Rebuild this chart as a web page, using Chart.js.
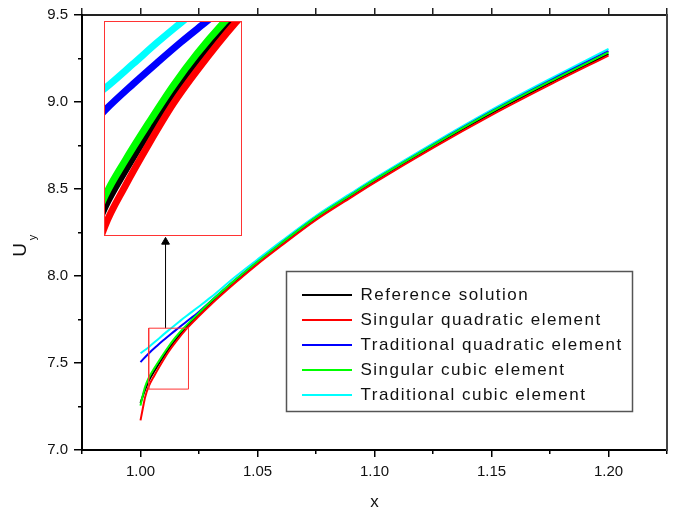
<!DOCTYPE html>
<html><head><meta charset="utf-8">
<script src="https://cdn.jsdelivr.net/npm/chart.js@4.4.1/dist/chart.umd.min.js"></script>
<style>
html,body{margin:0;padding:0;background:#fff;}
#wrap{position:relative;width:676px;height:515px;background:#fff;}
#main{position:absolute;left:0;top:0;}
#insetBox{position:absolute;left:104px;top:21px;width:138px;height:215px;box-sizing:border-box;border:1px solid #f33;background:#fff;}
#inset{display:block;}
</style></head><body>
<div id="wrap"><canvas id="main" width="676" height="515"></canvas>
<div id="insetBox"><canvas id="inset" width="136" height="213"></canvas></div></div>
<script>
// ---------- data ----------
const seriesNames = ['Reference solution','Singular quadratic element','Traditional quadratic element','Singular cubic element','Traditional cubic element'];

const refX = [1.000,1.001,1.002,1.0035,1.006,1.009,1.012,1.015,1.0192,1.025,1.030,1.040,1.050,1.060,1.075,1.090,1.100,1.125,1.150,1.175,1.200];
const refY = [7.270,7.310,7.348,7.396,7.455,7.520,7.580,7.635,7.700,7.780,7.845,7.965,8.075,8.180,8.330,8.460,8.545,8.745,8.935,9.110,9.275];

const sqX = [1.000,1.001,1.002,1.0035,1.006,1.009,1.012,1.015,1.0199,1.025,1.030,1.040,1.050,1.060,1.075,1.090,1.100,1.125,1.150,1.175,1.200];
const sqY = [7.170,7.240,7.305,7.365,7.430,7.500,7.565,7.620,7.700,7.770,7.835,7.955,8.068,8.172,8.322,8.452,8.537,8.737,8.925,9.100,9.267];

const tqX = [1.000,1.0035,1.007,1.010,1.013,1.0161,1.0192,1.025,1.030,1.040,1.050,1.060,1.075,1.090,1.100,1.125,1.150,1.175,1.200];
const tqY = [7.505,7.555,7.598,7.633,7.667,7.700,7.733,7.795,7.855,7.973,8.082,8.187,8.337,8.467,8.552,8.754,8.946,9.123,9.292];

const scX = [1.000,1.001,1.002,1.0035,1.006,1.009,1.012,1.015,1.0184,1.025,1.030,1.040,1.050,1.060,1.075,1.090,1.100,1.125,1.150,1.175,1.200];
const scY = [7.255,7.315,7.365,7.414,7.472,7.535,7.595,7.648,7.700,7.788,7.853,7.972,8.082,8.187,8.337,8.467,8.552,8.752,8.943,9.118,9.285];

const tcX = [1.000,1.0035,1.007,1.010,1.0131,1.0165,1.0192,1.025,1.030,1.040,1.050,1.060,1.075,1.090,1.100,1.125,1.150,1.175,1.200];
const tcY = [7.556,7.591,7.631,7.666,7.700,7.737,7.766,7.825,7.877,7.990,8.095,8.198,8.346,8.476,8.561,8.763,8.955,9.133,9.305];

const xRange = [0.975, 1.225];
const yRange = [7.0, 9.5];
const xTickValues = [1.00,1.05,1.10,1.15,1.20];
const xTickLabels = ['1.00','1.05','1.10','1.15','1.20'];
const xMinorTicks = [0.975,1.025,1.075,1.125,1.175,1.225];
const xTopTicks = [0.975,1.000,1.025,1.050,1.075,1.100,1.125,1.150,1.175,1.200,1.225];
const yTickValues = [7.0,7.5,8.0,8.5,9.0,9.5];
const yTickLabels = ['7.0','7.5','8.0','8.5','9.0','9.5'];
const yMinorTicks = [7.25,7.75,8.25,8.75,9.25];

const zoomX = [1.0035, 1.0205];
const zoomY = [7.35, 7.70];
const arrowX = [1.0107, 1.0107];
const arrowY = [7.70, 8.196];

const xTitle = 'x';
const yTitleMain = 'U';
const yTitleSub = 'y';

// ---------- styles ----------
const FONT = '"Liberation Sans", Arial, Helvetica, sans-serif';
const seriesColors = ['#000000','#ff0000','#0000ff','#00ff00','#00ffff'];
const seriesOrder = [5,1,3,2,4];
Chart.defaults.font.family = FONT;

const seriesXs = [refX, sqX, tqX, scX, tcX];
const seriesYs = [refY, sqY, tqY, scY, tcY];
const toPts = (xs, ys) => xs.map((x, i) => ({x: x, y: ys[i]}));

function seriesDatasets(width) {
  return seriesNames.map((name, i) => ({
    label: name,
    data: toPts(seriesXs[i], seriesYs[i]),
    borderColor: seriesColors[i],
    backgroundColor: seriesColors[i],
    pointBorderColor: seriesColors[i],
    pointBorderWidth: 2,
    borderWidth: width,
    pointRadius: 0,
    pointHitRadius: 0,
    cubicInterpolationMode: 'monotone',
    order: seriesOrder[i],
    xAxisID: 'x', yAxisID: 'y'
  }));
}

const mainDatasets = seriesDatasets(2);
mainDatasets.push({
  label: 'zoom',
  data: toPts([zoomX[0], zoomX[1], zoomX[1], zoomX[0], zoomX[0]], [zoomY[0], zoomY[0], zoomY[1], zoomY[1], zoomY[0]]),
  borderColor: '#f33', borderWidth: 1, pointRadius: 0, tension: 0, order: 0,
  xAxisID: 'x', yAxisID: 'y'
});
mainDatasets.push({
  label: 'arrow',
  data: toPts(arrowX, arrowY),
  borderColor: '#000', borderWidth: 1, tension: 0, order: 0,
  pointRadius: [0, 4.5], pointStyle: 'triangle', pointBackgroundColor: '#000', pointBorderColor: '#000', pointBorderWidth: 1,
  xAxisID: 'x', yAxisID: 'y'
});

function fixedTicks(values) { return s => { s.ticks = values.map(v => ({value: v})); }; }
const tickLabelFrom = (values, labels) => (v) => { const k = values.findIndex(t => Math.abs(t - v) < 1e-9); return k >= 0 ? labels[k] : ''; };

const overlayPlugin = {
  id: 'overlay',
  afterLayout(chart) {
    const lg = chart.legend; if (!lg) return;
    lg.left = 294; lg.top = 278.5; lg.right = 650; lg.bottom = 440;
    lg.width = lg.right - lg.left; lg.height = lg.bottom - lg.top;
    if (!lg._ls) {
      const orig = lg.draw;
      lg.draw = function (a) { const c = this.ctx; const p = c.letterSpacing; c.letterSpacing = '1.5px'; orig.call(this, a); c.letterSpacing = p || '0px'; };
      lg._ls = true;
    }
  },
  afterDraw(chart) {
    const ctx = chart.ctx;
    ctx.save();
    ctx.strokeStyle = '#555'; ctx.lineWidth = 1.5;
    ctx.strokeRect(286.5, 271.5, 346, 140);
    ctx.translate(20.5, 250); ctx.rotate(-Math.PI / 2);
    ctx.fillStyle = '#111'; ctx.textAlign = 'center'; ctx.textBaseline = 'middle';
    ctx.font = '19px ' + FONT; ctx.fillText(yTitleMain, 0, 0);
    ctx.font = '11px ' + FONT; ctx.fillText(yTitleSub, 12.5, 12);
    ctx.restore();
  }
};

const tickFont = {family: FONT, size: 15};
new Chart(document.getElementById('main'), {
  type: 'line',
  data: { datasets: mainDatasets },
  plugins: [overlayPlugin],
  options: {
    responsive: false, animation: false, devicePixelRatio: 1, events: [],
    layout: { padding: 0 },
    plugins: {
      tooltip: { enabled: false },
      legend: {
        position: 'chartArea', align: 'start',
        labels: {
          usePointStyle: true, pointStyle: 'line', pointStyleWidth: 50,
          padding: 8, color: '#111', font: {family: FONT, size: 17},
          filter: item => item.datasetIndex < seriesNames.length,
          sort: (a, b) => a.datasetIndex - b.datasetIndex
        }
      }
    },
    scales: {
      x: {
        type: 'linear', position: 'bottom', min: xRange[0], max: xRange[1], weight: 1,
        afterBuildTicks: fixedTicks(xTickValues),
        ticks: { callback: tickLabelFrom(xTickValues, xTickLabels), font: tickFont, color: '#111', padding: 6, maxRotation: 0, autoSkip: false },
        grid: { drawOnChartArea: false, drawTicks: true, tickLength: 7, lineWidth: 1.5, color: '#000', tickColor: '#000' },
        border: { display: true, color: '#000', width: 2 },
        title: { display: true, text: xTitle, color: '#111', font: {family: FONT, size: 17}, padding: {top: 0, bottom: 2} },
        afterFit: s => { s.height = 65; }
      },
      xMinor: {
        type: 'linear', position: 'bottom', min: xRange[0], max: xRange[1], weight: 0,
        afterBuildTicks: fixedTicks(xMinorTicks),
        ticks: { display: false },
        grid: { drawOnChartArea: false, drawTicks: true, tickLength: 4, lineWidth: 1.5, color: '#000', tickColor: '#000' },
        border: { display: false },
        afterFit: s => { s.height = 0; }
      },
      xTop: {
        type: 'linear', position: 'top', min: xRange[0], max: xRange[1],
        afterBuildTicks: fixedTicks(xTopTicks),
        ticks: { display: false },
        grid: { drawOnChartArea: false, drawTicks: true, tickLength: 7, lineWidth: 1.5, color: '#222', tickColor: '#222' },
        border: { display: true, color: '#222', width: 2 },
        afterFit: s => { s.height = 14; }
      },
      y: {
        type: 'linear', position: 'left', min: yRange[0], max: yRange[1], weight: 1,
        afterBuildTicks: fixedTicks(yTickValues),
        ticks: { callback: tickLabelFrom(yTickValues, yTickLabels), font: tickFont, color: '#111', padding: 6, autoSkip: false },
        grid: { drawOnChartArea: false, drawTicks: true, tickLength: 8, lineWidth: 1.5, color: '#000', tickColor: '#000' },
        border: { display: true, color: '#000', width: 2 },
        afterFit: s => { s.width = 82; }
      },
      yMinor: {
        type: 'linear', position: 'left', min: yRange[0], max: yRange[1], weight: 0,
        afterBuildTicks: fixedTicks(yMinorTicks),
        ticks: { display: false },
        grid: { drawOnChartArea: false, drawTicks: true, tickLength: 4, lineWidth: 1.5, color: '#000', tickColor: '#000' },
        border: { display: false },
        afterFit: s => { s.width = 0; }
      },
      yRight: {
        type: 'linear', position: 'right', min: yRange[0], max: yRange[1],
        ticks: { display: false },
        grid: { drawOnChartArea: false, drawTicks: false },
        border: { display: true, color: '#444', width: 2 },
        afterFit: s => { s.width = 9; }
      }
    }
  }
});

// ---------- inset (magnified view of the zoom box) ----------
new Chart(document.getElementById('inset'), {
  type: 'line',
  data: { datasets: seriesDatasets(7) },
  options: {
    responsive: false, animation: false, devicePixelRatio: 1, events: [],
    layout: { padding: 0 },
    plugins: { legend: { display: false }, tooltip: { enabled: false } },
    scales: {
      x: { type: 'linear', display: false, min: zoomX[0], max: zoomX[1] },
      y: { type: 'linear', display: false, min: zoomY[0], max: zoomY[1] }
    }
  }
});
</script>
</body></html>
